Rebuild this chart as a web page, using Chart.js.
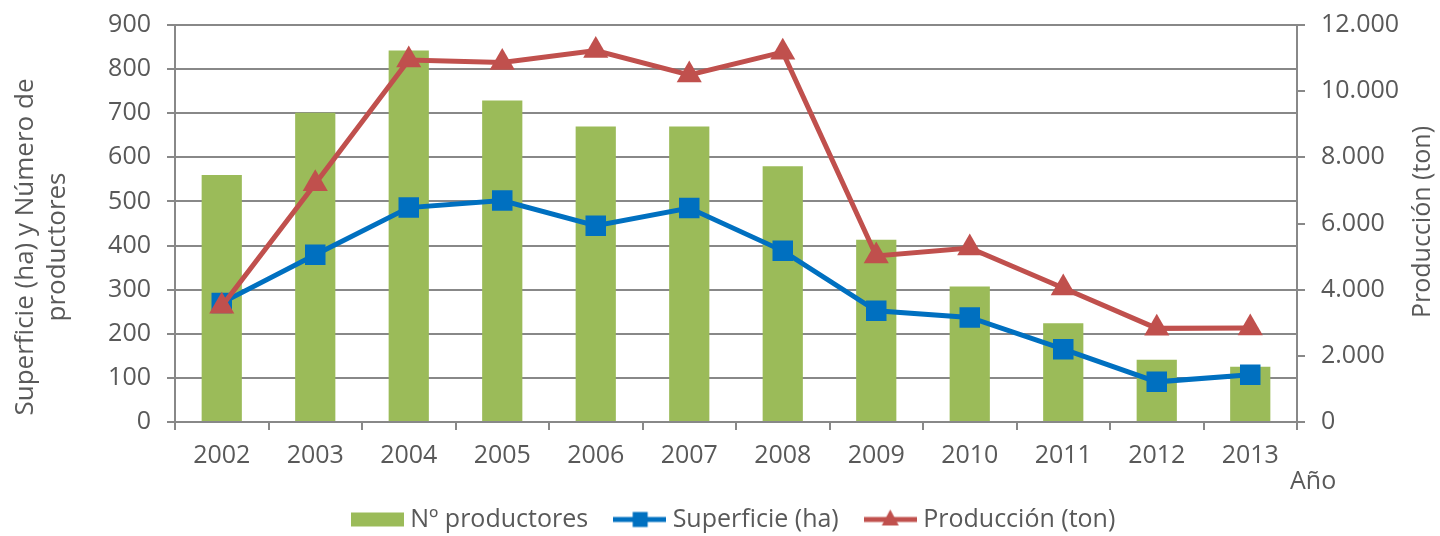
<!DOCTYPE html>
<html><head><meta charset="utf-8">
<script src="https://cdn.jsdelivr.net/npm/chart.js@4.4.1/dist/chart.umd.min.js"></script>
<style>html,body{margin:0;padding:0;background:#fff}#wrap{width:1440px;height:536px;position:relative}</style>
</head><body><div id="wrap"><canvas id="c" width="1440" height="536"></canvas></div>
<script>
const years = ['2002','2003','2004','2005','2006','2007','2008','2009','2010','2011','2012','2013'];
const productores = [560, 701, 842, 729, 670, 670, 580, 413, 307, 224, 141, 125];
const superficie = [270, 379, 486, 502, 445, 485, 388, 252, 237, 165, 91, 107];
const produccion = [3500, 7200, 10940, 10870, 11230, 10490, 11180, 5020, 5260, 4050, 2830, 2840];
const leftTitle = ['Superficie (ha) y Número de', 'productores'];
const rightTitle = 'Producción (ton)';
const xTitle = 'Año';
const seriesNames = ['Nº productores', 'Superficie (ha)', 'Producción (ton)'];

const GREEN = '#9BBB59', BLUE = '#0070C0', RED = '#C0504D';
const GRID = '#888888', TEXT = '#595959';
const FONT = '"Open Sans", sans-serif';
const FS = 25;

function legendIcon(kind, color) {
  const c = document.createElement('canvas');
  c.width = 53; c.height = 24;
  const g = c.getContext('2d');
  if (kind === 'bar') {
    g.fillStyle = color; g.fillRect(0, 5, 53, 14);
  } else {
    g.strokeStyle = color; g.lineWidth = 5;
    g.beginPath(); g.moveTo(0, 12); g.lineTo(53, 12); g.stroke();
    g.fillStyle = color;
    if (kind === 'rect') { g.fillRect(19.5, 4.5, 15, 15); }
    else { g.beginPath(); g.moveTo(26.5, 2); g.lineTo(35, 18); g.lineTo(18, 18); g.closePath(); g.fill(); }
  }
  return c;
}
const icons = [legendIcon('bar', GREEN), legendIcon('rect', BLUE), legendIcon('tri', RED)];

const titlesPlugin = {
  id: 'titles',
  afterDraw(chart) {
    const ctx = chart.ctx;
    ctx.save();
    ctx.fillStyle = TEXT;
    ctx.textAlign = 'center';
    ctx.textBaseline = 'middle';
    ctx.font = '26px ' + FONT;
    const cy = 247;
    ctx.save(); ctx.translate(26, cy); ctx.rotate(-Math.PI / 2); ctx.fillText(leftTitle[0], 0, 0); ctx.restore();
    ctx.save(); ctx.translate(58, cy); ctx.rotate(-Math.PI / 2); ctx.fillText(leftTitle[1], 0, 0); ctx.restore();
    ctx.font = FS + 'px ' + FONT;
    ctx.save(); ctx.translate(1423, 222); ctx.rotate(-Math.PI / 2); ctx.fillText(rightTitle, 0, 0); ctx.restore();
    ctx.textAlign = 'left';
    ctx.fillText(xTitle, 1290, 482);
    ctx.restore();
  }
};

function noVPad(s) { s.paddingTop = 0; s.paddingBottom = 0; }

new Chart(document.getElementById('c'), {
  data: {
    labels: years,
    datasets: [
      { type: 'bar', label: seriesNames[0], data: productores, backgroundColor: GREEN, yAxisID: 'y', order: 3,
        barPercentage: 0.43, categoryPercentage: 1 },
      { type: 'line', label: seriesNames[1], data: superficie, borderColor: BLUE, backgroundColor: BLUE, borderWidth: 5,
        pointStyle: 'rect', pointRadius: 14.5, pointBorderWidth: 0, yAxisID: 'y', order: 2, tension: 0 },
      { type: 'line', label: seriesNames[2], data: produccion, borderColor: RED, backgroundColor: RED, borderWidth: 5,
        pointStyle: 'triangle', pointRadius: 14.5, pointBorderWidth: 0, yAxisID: 'y1', order: 1, tension: 0 }
    ]
  },
  options: {
    responsive: false,
    devicePixelRatio: 1,
    animation: false,
    layout: { padding: { top: 25, left: 0, right: 0, bottom: -6 } },
    plugins: {
      tooltip: { enabled: false },
      legend: {
        position: 'bottom',
        fullSize: false,
        labels: {
          usePointStyle: true,
          pointStyleWidth: 41,
          padding: 31,
          color: TEXT,
          font: { family: FONT, size: FS },
          generateLabels(chart) {
            return chart.data.datasets.map((d, i) => ({
              text: d.label, pointStyle: icons[i], fillStyle: 'transparent', strokeStyle: 'transparent',
              lineWidth: 0, hidden: false, datasetIndex: i, fontColor: TEXT
            }));
          }
        }
      }
    },
    scales: {
      x: {
        offset: true,
        afterFit(s) { s.height = 54; },
        grid: { display: true, offset: true, drawOnChartArea: false, drawTicks: true, tickLength: 8, color: GRID, lineWidth: 2 },
        border: { display: true, color: GRID, width: 2 },
        ticks: { color: TEXT, font: { family: FONT, size: FS }, padding: 11, maxRotation: 0 }
      },
      y: {
        position: 'left', min: 0, max: 900,
        afterFit(s) { s.width = 175; noVPad(s); },
        grid: { color: GRID, lineWidth: 2, tickLength: 8, tickColor: GRID },
        border: { display: true, color: GRID, width: 2 },
        ticks: { stepSize: 100, color: TEXT, font: { family: FONT, size: FS }, padding: 16 }
      },
      y1: {
        position: 'right', min: 0, max: 12000,
        afterFit(s) { s.width = 143; noVPad(s); },
        grid: { drawOnChartArea: false, color: GRID, lineWidth: 2, tickLength: 8 },
        border: { display: true, color: GRID, width: 2 },
        ticks: { stepSize: 2000, color: TEXT, font: { family: FONT, size: FS }, padding: 16,
          callback: v => v === 0 ? '0' : String(v).replace(/\B(?=(\d{3})+(?!\d))/g, '.') }
      }
    }
  },
  plugins: [titlesPlugin]
});
</script>
</body></html>
